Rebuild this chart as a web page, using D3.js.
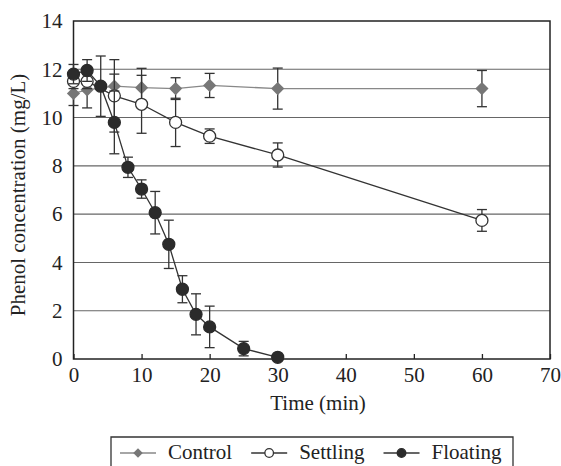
<!DOCTYPE html>
<html>
<head>
<meta charset="utf-8">
<script src="https://cdn.jsdelivr.net/npm/d3@7"></script>
<style>
  html, body { margin: 0; padding: 0; background: #fff; }
</style>
</head>
<body>
<svg id="chart" width="561" height="466"></svg>
<script>
const controlTime = [0, 2, 6, 10, 15, 20, 30, 60];
const controlValue = [11.0, 11.15, 11.3, 11.24, 11.2, 11.33, 11.2, 11.2];
const controlErr = [0.5, 0.75, 0.5, 0.8, 0.45, 0.5, 0.85, 0.75];

const settlingTime = [0, 2, 6, 10, 15, 20, 30, 60];
const settlingValue = [11.5, 11.5, 10.9, 10.55, 9.8, 9.23, 8.45, 5.74];
const settlingErr = [0.3, 0.3, 1.5, 1.2, 1.0, 0.3, 0.5, 0.45];

const floatingTime = [0, 2, 4, 6, 8, 10, 12, 14, 16, 18, 20, 25, 30];
const floatingValue = [11.8, 11.95, 11.3, 9.8, 7.94, 7.04, 6.06, 4.75, 2.89, 1.85, 1.33, 0.43, 0.07];
const floatingErr = [0.4, 0.45, 1.25, 1.3, 0.42, 0.38, 0.88, 1.0, 0.56, 0.85, 0.86, 0.3, 0.05];

const xTicks = [0, 10, 20, 30, 40, 50, 60, 70];
const yTicks = [0, 2, 4, 6, 8, 10, 12, 14];

const FONT = "Liberation Serif";

const svg = d3.select("#chart");
const x = d3.scaleLinear().domain([0, 70]).range([73.5, 550]);
const y = d3.scaleLinear().domain([0, 14]).range([359, 21]);

// gridlines
svg.append("g")
  .selectAll("line")
  .data(yTicks.slice(1, -1))
  .join("line")
  .attr("x1", x(0)).attr("x2", x(70))
  .attr("y1", d => y(d)).attr("y2", d => y(d))
  .attr("stroke", "#666")
  .attr("stroke-width", 1.1);

// plot frame
svg.append("rect")
  .attr("x", x(0)).attr("y", y(14))
  .attr("width", x(70) - x(0)).attr("height", y(0) - y(14))
  .attr("fill", "none")
  .attr("stroke", "#222")
  .attr("stroke-width", 1.5);

// x axis ticks, pointing inward
const xAxis = svg.append("g")
  .attr("transform", `translate(0,${y(0)})`)
  .call(d3.axisBottom(x).tickValues(xTicks).tickSize(-5).tickPadding(8).tickFormat(d3.format("d")));
xAxis.select(".domain").remove();
xAxis.selectAll(".tick line").attr("stroke", "#222").attr("stroke-width", 1.3);
xAxis.selectAll(".tick text")
  .attr("font-family", FONT)
  .attr("font-size", 21)
  .attr("dy", "0.71em")
  .attr("fill", "#222");

const yAxis = svg.append("g")
  .attr("transform", `translate(${x(0)},0)`)
  .call(d3.axisLeft(y).tickValues(yTicks).tickSize(0).tickPadding(11).tickFormat(d3.format("d")));
yAxis.select(".domain").remove();
yAxis.selectAll(".tick text")
  .attr("font-family", FONT)
  .attr("font-size", 21)
  .attr("fill", "#222");

svg.append("text")
  .attr("x", 318)
  .attr("y", 410)
  .attr("text-anchor", "middle")
  .attr("font-family", FONT)
  .attr("font-size", 21)
  .attr("fill", "#222")
  .text("Time (min)");

svg.append("text")
  .attr("transform", `translate(25,195) rotate(-90)`)
  .attr("text-anchor", "middle")
  .attr("font-family", FONT)
  .attr("font-size", 21)
  .attr("fill", "#222")
  .text("Phenol concentration (mg/L)");

const series = [
  { name: "Control", time: controlTime, value: controlValue, err: controlErr,
    line: "#888", marker: "diamond", fill: "#777", stroke: "#777" },
  { name: "Settling", time: settlingTime, value: settlingValue, err: settlingErr,
    line: "#333", marker: "circle", fill: "#fff", stroke: "#333" },
  { name: "Floating", time: floatingTime, value: floatingValue, err: floatingErr,
    line: "#333", marker: "circle", fill: "#2b2b2b", stroke: "#2b2b2b" }
];

function drawMarker(g, s, cx, cy, size) {
  if (s.marker === "diamond") {
    g.append("path")
      .attr("d", `M${cx},${cy - size * 1.1}L${cx + size * 1.1},${cy}L${cx},${cy + size * 1.1}L${cx - size * 1.1},${cy}Z`)
      .attr("fill", s.fill);
  } else {
    g.append("circle")
      .attr("cx", cx).attr("cy", cy).attr("r", size)
      .attr("fill", s.fill)
      .attr("stroke", s.stroke)
      .attr("stroke-width", 1.3);
  }
}

const line = d3.line().x(d => x(d[0])).y(d => y(d[1]));

series.forEach(s => {
  const pts = s.time.map((t, i) => [t, s.value[i], s.err[i]]);
  const g = svg.append("g");

  g.selectAll(".err")
    .data(pts)
    .join("g")
    .each(function(d) {
      const e = d3.select(this);
      const cx = x(d[0]);
      e.append("line")
        .attr("x1", cx).attr("x2", cx)
        .attr("y1", y(d[1] + d[2])).attr("y2", y(d[1] - d[2]));
      e.append("line")
        .attr("x1", cx - 5).attr("x2", cx + 5)
        .attr("y1", y(d[1] + d[2])).attr("y2", y(d[1] + d[2]));
      e.append("line")
        .attr("x1", cx - 5).attr("x2", cx + 5)
        .attr("y1", y(d[1] - d[2])).attr("y2", y(d[1] - d[2]));
    })
    .selectAll("line")
    .attr("stroke", "#333")
    .attr("stroke-width", 1.3);

  g.append("path")
    .datum(pts)
    .attr("d", line)
    .attr("fill", "none")
    .attr("stroke", s.line)
    .attr("stroke-width", 1.3);

  pts.forEach(d => drawMarker(g, s, x(d[0]), y(d[1]), 6));
});

// legend
const legend = svg.append("g");
legend.append("path")
  .attr("d", "M111,470V437H513V470")
  .attr("fill", "none")
  .attr("stroke", "#333")
  .attr("stroke-width", 1.3);

let lx = 120;
const ly = 453;
series.forEach(s => {
  const item = legend.append("g");
  item.append("line")
    .attr("x1", lx).attr("x2", lx + 36)
    .attr("y1", ly).attr("y2", ly)
    .attr("stroke", s.line)
    .attr("stroke-width", 1.3);
  drawMarker(item, s, lx + 18, ly, 4.3);
  const t = item.append("text")
    .attr("x", lx + 48)
    .attr("y", ly + 6)
    .attr("font-family", FONT)
    .attr("font-size", 21)
    .attr("fill", "#222")
    .text(s.name);
  lx = lx + 48 + t.node().getComputedTextLength() + 19;
});
</script>
</body>
</html>
